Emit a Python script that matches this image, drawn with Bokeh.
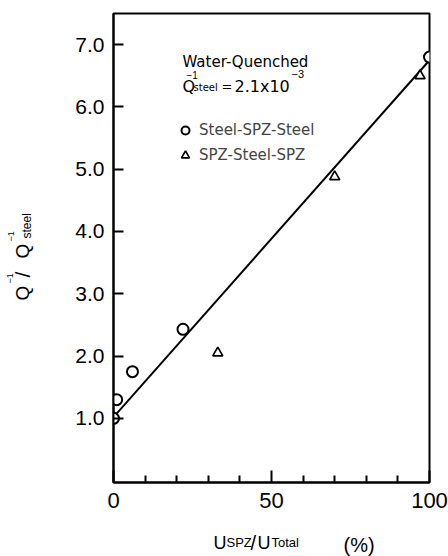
import math
from bokeh.plotting import figure
from bokeh.models import (Range1d, FixedTicker, Legend, LegendItem,
                          CustomJSTickFormatter)
from bokeh.core.properties import value
from bokeh.embed import file_html
from bokeh.resources import INLINE

# ---- data ----
steel_spz_steel_x = [0, 1, 6, 22, 100]
steel_spz_steel_y = [1.0, 1.3, 1.75, 2.43, 6.8]
spz_steel_spz_x = [33, 70, 97]
spz_steel_spz_y = [2.05, 4.88, 6.5]
fit_x = [0, 100]
fit_y = [1.02, 6.75]
x_major_ticks = [0, 50, 100]
x_minor_ticks = [10, 20, 30, 40, 60, 70, 80, 90]
y_ticks = [1, 2, 3, 4, 5, 6, 7]

FONT = "Liberation Sans"
TFONT = "DejaVu Sans"

W, H = 448, 556
LEFT, RIGHT, TOP, BOTTOM = 113, 19, 13, 74
X0, X1 = 0, 100
Y0, Y1 = -0.03, 7.5

p = figure(width=W, height=H, output_backend="svg", toolbar_location=None,
           x_range=Range1d(X0, X1), y_range=Range1d(Y0, Y1),
           min_border_left=LEFT, min_border_right=RIGHT, min_border_top=TOP,
           min_border_bottom=BOTTOM)
p.grid.visible = False
p.background_fill_color = "white"
p.border_fill_color = "white"
p.outline_line_color = "black"
p.outline_line_width = 2

# axes
xa = p.xaxis[0]
xa.ticker = FixedTicker(ticks=x_major_ticks, minor_ticks=x_minor_ticks)
xa.major_tick_in = 12
xa.major_tick_out = 0
xa.minor_tick_in = 7
xa.minor_tick_out = 0
xa.major_tick_line_width = 2
xa.minor_tick_line_width = 2
xa.axis_line_width = 2
xa.major_label_text_font = FONT
xa.major_label_text_font_size = "22px"
xa.major_label_text_color = "black"
xa.major_label_standoff = 10

ya = p.yaxis[0]
ya.ticker = FixedTicker(ticks=y_ticks)
ya.minor_tick_line_color = None
ya.major_tick_in = 10
ya.major_tick_out = 0
ya.major_tick_line_width = 2
ya.axis_line_width = 2
ya.major_label_text_font = FONT
ya.major_label_text_font_size = "21px"
ya.major_label_text_color = "black"
ya.major_label_standoff = 9
ya.formatter = CustomJSTickFormatter(code="return tick.toFixed(1);")

# fitted line
p.line(fit_x, fit_y, line_color="black", line_width=2)

# data points
r_circ = p.scatter(steel_spz_steel_x, steel_spz_steel_y, marker="circle", size=11,
                   line_color="black", line_width=2, fill_color="white")
r_tri = p.scatter(spz_steel_spz_x, spz_steel_spz_y, marker="triangle", size=10,
                  line_color="black", line_width=1.7, fill_color="white")

legend = Legend(items=[LegendItem(label="Steel-SPZ-Steel", renderers=[r_circ]),
                       LegendItem(label="SPZ-Steel-SPZ", renderers=[r_tri])],
                location=(62, 317), border_line_color=None,
                background_fill_alpha=0, padding=0, margin=0, spacing=5,
                glyph_width=20, glyph_height=20, label_height=20,
                label_standoff=4, label_text_font=TFONT,
                label_text_font_size="15px")
p.add_layout(legend)

# ---- text pieces placed by canvas pixel position (baseline start) ----
FW = W - LEFT - RIGHT
FH = H - TOP - BOTTOM
SHIFT = 6  # measured baseline offset of the text glyph

def px2x(px):
    return X0 + (px - LEFT) / FW * (X1 - X0)

def py2y(py):
    return Y0 + (H - BOTTOM - py) / FH * (Y1 - Y0)

def txt(s, px, py, size, font=TFONT, angle=0.0):
    px = px - SHIFT * math.sin(angle)
    py = py - SHIFT * math.cos(angle)
    p.text(x=[px2x(px)], y=[py2y(py)], text=[s], text_font=value(font),
           text_font_size=value(size), text_color="black", angle=angle,
           text_align="left", text_baseline="alphabetic", level="overlay")

# annotation block
txt("Water-Quenched", 182, 67, "15px")
txt("Q", 182, 92, "16px")
txt("\u22121", 186, 80, "10px", FONT)
txt("steel", 193, 93, "10px")
txt("=", 221, 92, "13px")
txt("2.1x10", 234, 92, "16px")
txt("\u22123", 291, 79, "11px", FONT)

# x axis label
txt("U", 213, 548, "18px", FONT)
txt("SPZ", 226, 548, "13px", FONT)
txt("/", 250, 548, "20px", FONT)
txt("U", 257, 548, "18px", FONT)
txt("Total", 271, 548, "13px", FONT)
txt("(%)", 343, 550, "20px", FONT)

# y axis label (rotated)
A = math.pi / 2
txt("Q", 28, 300, "19px", FONT, A)
txt("\u22121", 15, 283, "9px", FONT, A)
txt("/", 28, 277, "21px", FONT, A)
txt("Q", 28, 258, "19px", FONT, A)
txt("\u22121", 16, 241, "9px", FONT, A)
txt("steel", 32, 238, "12px", FONT, A)

open("out.html", "w").write(file_html(p, INLINE))
